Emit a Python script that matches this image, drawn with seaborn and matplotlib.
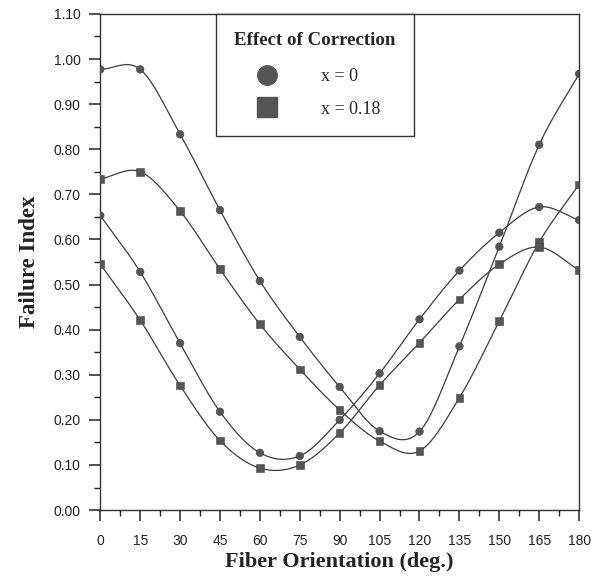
import numpy as np
import pandas as pd
import matplotlib
matplotlib.use("Agg")
import matplotlib.pyplot as plt
import seaborn as sns
from matplotlib.lines import Line2D
from matplotlib.ticker import MultipleLocator

# fiber orientation (deg.)
angles = [0, 15, 30, 45, 60, 75, 90, 105, 120, 135, 150, 165, 180]

# failure index, four curves (two per correction value)
fi_x0_upper = [0.977, 0.977, 0.833, 0.665, 0.508, 0.384, 0.273, 0.175, 0.174, 0.363, 0.584, 0.810, 0.967]
fi_x018_upper = [0.734, 0.750, 0.663, 0.534, 0.412, 0.312, 0.222, 0.153, 0.131, 0.249, 0.419, 0.594, 0.722]
fi_x0_lower = [0.653, 0.528, 0.370, 0.218, 0.127, 0.120, 0.200, 0.303, 0.423, 0.531, 0.615, 0.672, 0.643]
fi_x018_lower = [0.545, 0.421, 0.276, 0.154, 0.093, 0.100, 0.171, 0.277, 0.371, 0.467, 0.545, 0.583, 0.532]

curves = [
    ("x = 0", "a", fi_x0_upper),
    ("x = 0.18", "b", fi_x018_upper),
    ("x = 0", "c", fi_x0_lower),
    ("x = 0.18", "d", fi_x018_lower),
]


def smooth_line(x, y, n=400):
    # cubic hermite (catmull-rom tangents), only for drawing the smooth line through the points
    x = np.asarray(x, float)
    y = np.asarray(y, float)
    k = len(x)
    m = np.zeros(k)
    m[1:-1] = (y[2:] - y[:-2]) / (x[2:] - x[:-2])
    m[0] = (y[1] - y[0]) / (x[1] - x[0])
    m[-1] = (y[-1] - y[-2]) / (x[-1] - x[-2])
    xs = np.linspace(x[0], x[-1], n)
    idx = np.clip(np.searchsorted(x, xs) - 1, 0, k - 2)
    h = x[idx + 1] - x[idx]
    t = (xs - x[idx]) / h
    h00 = 2 * t ** 3 - 3 * t ** 2 + 1
    h10 = t ** 3 - 2 * t ** 2 + t
    h01 = -2 * t ** 3 + 3 * t ** 2
    h11 = t ** 3 - t ** 2
    ys = h00 * y[idx] + h10 * h * m[idx] + h01 * y[idx + 1] + h11 * h * m[idx + 1]
    return xs, ys


pts = pd.concat([pd.DataFrame({"angle": angles, "fi": v, "corr": lab, "curve": cid})
                 for lab, cid, v in curves], ignore_index=True)
smooth = []
for lab, cid, v in curves:
    xs, ys = smooth_line(angles, v)
    smooth.append(pd.DataFrame({"angle": xs, "fi": ys, "curve": cid}))
smooth = pd.concat(smooth, ignore_index=True)

sns.set_theme(style="ticks")
plt.rcParams["font.family"] = ["Liberation Sans", "DejaVu Sans"]

fig, ax = plt.subplots(figsize=(5.97, 5.79), dpi=100)
fig.subplots_adjust(left=0.168, right=0.970, top=0.976, bottom=0.119)

sns.lineplot(data=smooth, x="angle", y="fi", units="curve", estimator=None,
             color="#3c3c3c", linewidth=0.9, ax=ax, legend=False)
sns.scatterplot(data=pts, x="angle", y="fi", style="corr", markers={"x = 0": "o", "x = 0.18": "s"},
                color="#555555", s=30, edgecolor="#444444", linewidth=0.4, ax=ax, legend=False, zorder=3)

ax.set_xlim(0, 180)
ax.set_ylim(0, 1.10)
ax.xaxis.set_major_locator(MultipleLocator(15))
ax.xaxis.set_minor_locator(MultipleLocator(7.5))
ax.yaxis.set_major_locator(MultipleLocator(0.10))
ax.yaxis.set_minor_locator(MultipleLocator(0.05))
ax.yaxis.set_major_formatter(matplotlib.ticker.FormatStrFormatter("%.2f"))
ax.tick_params(which="major", direction="out", length=8, width=1.1, labelsize=10,
               colors="#222222", pad=6)
ax.tick_params(axis="x", which="major", pad=9)
ax.tick_params(which="minor", direction="out", length=4, width=1.0, colors="#222222")
for s in ax.spines.values():
    s.set_linewidth(1.0)
    s.set_color("#333333")

ax.set_xlabel("Fiber Orientation (deg.)", family="Liberation Serif", fontweight="bold",
              fontsize=16, color="#222222", labelpad=3)
ax.set_ylabel("Failure Index", family="Liberation Serif", fontweight="bold",
              fontsize=16.5, color="#222222", labelpad=10)

handles = [Line2D([], [], linestyle="none", marker="o", markersize=14, color="#555555"),
           Line2D([], [], linestyle="none", marker="s", markersize=14, color="#555555")]
leg = ax.legend(handles, ["x = 0", "x = 0.18"], title="Effect of Correction",
                loc="upper left", bbox_to_anchor=(0.242, 1.0), frameon=True, fancybox=False,
                edgecolor="#333333", framealpha=1, borderpad=1.0, labelspacing=0.85,
                handlelength=2.0, handletextpad=2.0, borderaxespad=0,
                prop={"family": "Liberation Serif", "size": 13})
leg.get_title().set_fontfamily("Liberation Serif")
leg.get_title().set_fontweight("bold")
leg.get_title().set_fontsize(13.6)
leg._legend_box.sep = 14
leg.get_frame().set_linewidth(1.0)

plt.savefig("out.png", dpi=100)
